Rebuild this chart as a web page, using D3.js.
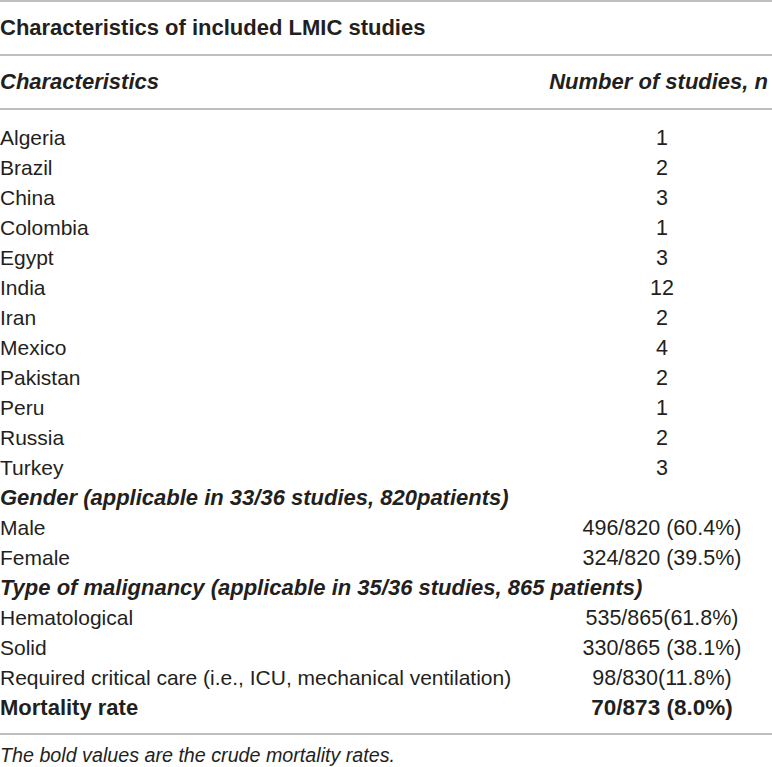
<!DOCTYPE html>
<html>
<head>
<meta charset="utf-8">
<style>
    body { margin: 0; background: #fff; }
    svg text { font-family: "Liberation Sans", Arial, sans-serif; fill: #231f20; }
    .rule { stroke: #a7a9ac; stroke-width: 1.5px; }
</style>
</head>
<body>
<svg></svg>
<script src="https://d3js.org/d3.v7.min.js"></script>
<script>
    var vWidth = 772;
    var vHeight = 767;

    var title = 'Characteristics of included LMIC studies';
    var headers = ['Characteristics', 'Number of studies, n'];

    var countries = ['Algeria', 'Brazil', 'China', 'Colombia', 'Egypt', 'India',
        'Iran', 'Mexico', 'Pakistan', 'Peru', 'Russia', 'Turkey'];
    var countryStudies = [1, 2, 3, 1, 3, 12, 2, 4, 2, 1, 2, 3];

    var genderHeader = 'Gender (applicable in 33/36 studies, 820patients)';
    var genderLabels = ['Male', 'Female'];
    var genderValues = ['496/820 (60.4%)', '324/820 (39.5%)'];

    var malignancyHeader = 'Type of malignancy (applicable in 35/36 studies, 865 patients)';
    var malignancyLabels = ['Hematological', 'Solid', 'Required critical care (i.e., ICU, mechanical ventilation)'];
    var malignancyValues = ['535/865(61.8%)', '330/865 (38.1%)', '98/830(11.8%)'];

    var mortalityLabel = 'Mortality rate';
    var mortalityValue = '70/873 (8.0%)';

    var footnote = 'The bold values are the crude mortality rates.';

    // Build the row list from the arrays
    var rows = [];
    countries.forEach(function (c, i) { rows.push({label: c, value: String(countryStudies[i]), kind: 'plain'}); });
    rows.push({label: genderHeader, value: '', kind: 'section'});
    genderLabels.forEach(function (c, i) { rows.push({label: c, value: genderValues[i], kind: 'plain'}); });
    rows.push({label: malignancyHeader, value: '', kind: 'section'});
    malignancyLabels.forEach(function (c, i) { rows.push({label: c, value: malignancyValues[i], kind: 'plain'}); });
    rows.push({label: mortalityLabel, value: mortalityValue, kind: 'bold'});

    var svg = d3.select('svg').attr('width', vWidth).attr('height', vHeight);

    // Row baselines, 30px apart
    var y = d3.scaleLinear().domain([0, 1]).range([145, 175]);
    var xLabel = 0;
    var xValue = 662;

    // Rules
    var lastBase = y(rows.length - 1);
    var rules = [1, 55, 109, lastBase + 19];
    svg.selectAll('line.rule').data(rules).enter().append('line')
        .attr('class', 'rule')
        .attr('x1', 0).attr('x2', vWidth)
        .attr('y1', function (d) { return d; }).attr('y2', function (d) { return d; });

    svg.append('text').attr('x', xLabel).attr('y', 35)
        .style('font-size', '22px').style('font-weight', 'bold')
        .text(title);

    svg.append('text').attr('x', xLabel).attr('y', 89)
        .style('font-size', '22px').style('font-weight', 'bold').style('font-style', 'italic')
        .text(headers[0]);
    svg.append('text').attr('x', 768).attr('y', 89).attr('text-anchor', 'end')
        .style('font-size', '22px').style('font-weight', 'bold').style('font-style', 'italic')
        .text(headers[1]);

    var g = svg.selectAll('g.row').data(rows).enter().append('g')
        .attr('class', 'row')
        .attr('transform', function (d, i) { return 'translate(0,' + y(i) + ')'; });

    g.append('text').attr('x', xLabel)
        .style('font-size', function (d) { return d.kind === 'plain' ? '21px' : '22px'; })
        .style('font-weight', function (d) { return d.kind === 'plain' ? 'normal' : 'bold'; })
        .style('font-style', function (d) { return d.kind === 'section' ? 'italic' : 'normal'; })
        .text(function (d) { return d.label; });

    g.append('text').attr('x', xValue).attr('text-anchor', 'middle')
        .style('font-size', function (d) { return d.kind === 'bold' ? '22.5px' : '21.5px'; })
        .style('font-weight', function (d) { return d.kind === 'bold' ? 'bold' : 'normal'; })
        .text(function (d) { return d.value; });

    svg.append('text').attr('x', xLabel).attr('y', lastBase + 47)
        .style('font-size', '19.7px').style('font-style', 'italic')
        .text(footnote);
</script>
</body>
</html>
